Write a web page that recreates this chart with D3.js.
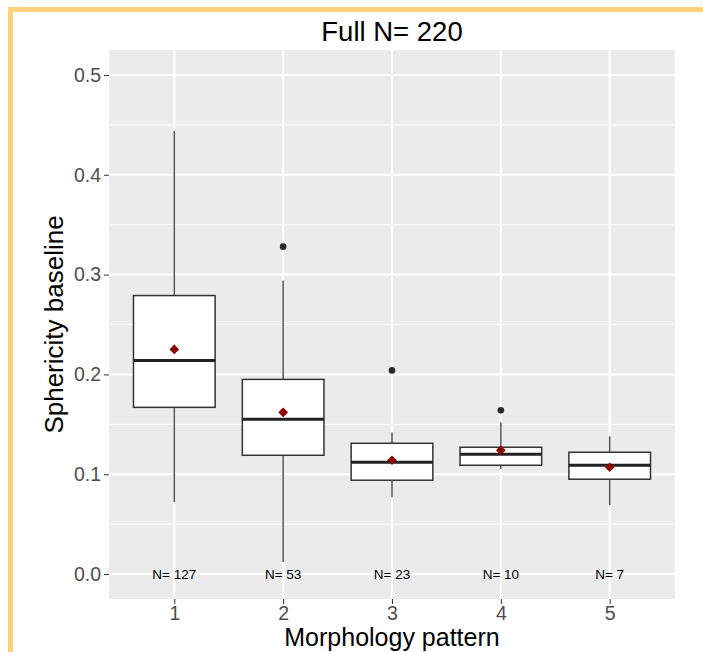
<!DOCTYPE html>
<html>
<head>
<meta charset="utf-8">
<script src="https://cdn.jsdelivr.net/npm/d3@7"></script>
<style>
  body { margin: 0; background: #fff; }
  svg { display: block; font-family: "Liberation Sans", Arial, sans-serif; }
</style>
</head>
<body>
<svg id="chart"></svg>
<script>
// values
const categories = ['1', '2', '3', '4', '5'];
const lowerWhisker = [0.072, 0.012, 0.077, 0.105, 0.069];
const q1 = [0.167, 0.119, 0.094, 0.109, 0.095];
const median = [0.214, 0.155, 0.112, 0.120, 0.109];
const q3 = [0.279, 0.195, 0.131, 0.127, 0.122];
const upperWhisker = [0.444, 0.294, 0.142, 0.152, 0.138];
const means = [0.225, 0.162, 0.114, 0.124, 0.107];
const outliers = [[], [0.328], [0.204], [0.164], []];
const counts = [127, 53, 23, 10, 7];
const yTicks = [0, 0.1, 0.2, 0.3, 0.4, 0.5];
const yMinor = [0.05, 0.15, 0.25, 0.35, 0.45];

const width = 703;
const height = 652;
const panel = { left: 109, right: 675, top: 50, bottom: 599 };

const svg = d3.select('#chart').attr('width', width).attr('height', height);

// yellow frame on the left and top
svg.append('rect').attr('x', 8).attr('y', 7).attr('width', 5).attr('height', height - 7).attr('fill', '#FED27C');
svg.append('rect').attr('x', 8).attr('y', 7).attr('width', width - 8).attr('height', 5).attr('fill', '#FED27C');

const x = d3.scalePoint().domain(categories).range([panel.left, panel.right]).padding(0.6);
const y = d3.scaleLinear().domain([-0.025, 0.525]).range([panel.bottom, panel.top]);
const boxW = x.step() * 0.75;

const boxes = categories.map((c, i) => ({
  cat: c, lw: lowerWhisker[i], q1: q1[i], med: median[i], q3: q3[i], uw: upperWhisker[i],
  mean: means[i], out: outliers[i], n: counts[i]
}));

svg.append('rect')
  .attr('x', panel.left).attr('y', panel.top)
  .attr('width', panel.right - panel.left).attr('height', panel.bottom - panel.top)
  .attr('fill', '#EBEBEB');

const grid = svg.append('g').attr('class', 'grid');
grid.selectAll('line.minor')
  .data(yMinor)
  .join('line')
  .attr('class', 'minor')
  .attr('x1', panel.left).attr('x2', panel.right)
  .attr('y1', d => y(d)).attr('y2', d => y(d))
  .attr('stroke', '#fff').attr('stroke-width', 1);
grid.selectAll('line.majory')
  .data(yTicks)
  .join('line')
  .attr('class', 'majory')
  .attr('x1', panel.left).attr('x2', panel.right)
  .attr('y1', d => y(d)).attr('y2', d => y(d))
  .attr('stroke', '#fff').attr('stroke-width', 2);
grid.selectAll('line.majorx')
  .data(categories)
  .join('line')
  .attr('class', 'majorx')
  .attr('x1', d => x(d)).attr('x2', d => x(d))
  .attr('y1', panel.top).attr('y2', panel.bottom)
  .attr('stroke', '#fff').attr('stroke-width', 2);

const box = svg.append('g')
  .selectAll('g')
  .data(boxes)
  .join('g')
  .attr('transform', d => `translate(${x(d.cat)},0)`);

box.append('line')
  .attr('x1', 0).attr('x2', 0)
  .attr('y1', d => y(d.q3)).attr('y2', d => y(d.uw))
  .attr('stroke', '#555').attr('stroke-width', 1.5);
box.append('line')
  .attr('x1', 0).attr('x2', 0)
  .attr('y1', d => y(d.q1)).attr('y2', d => y(d.lw))
  .attr('stroke', '#555').attr('stroke-width', 1.5);
box.append('rect')
  .attr('x', -boxW / 2).attr('width', boxW)
  .attr('y', d => y(d.q3)).attr('height', d => y(d.q1) - y(d.q3))
  .attr('fill', '#fff').attr('stroke', '#333').attr('stroke-width', 1.5);
box.append('line')
  .attr('x1', -boxW / 2).attr('x2', boxW / 2)
  .attr('y1', d => y(d.med)).attr('y2', d => y(d.med))
  .attr('stroke', '#222').attr('stroke-width', 3);
box.selectAll('circle')
  .data(d => d.out)
  .join('circle')
  .attr('cx', 0).attr('cy', d => y(d)).attr('r', 3.3)
  .attr('fill', '#2a2a2a');
box.append('path')
  .attr('d', d3.symbol(d3.symbolDiamond2, 60))
  .attr('transform', d => `translate(0,${y(d.mean)})`)
  .attr('fill', '#8B0000');
box.append('text')
  .attr('y', y(0))
  .attr('dy', '0.36em')
  .attr('text-anchor', 'middle')
  .attr('font-size', 13.5)
  .attr('fill', '#000')
  .text(d => `N= ${d.n}`);

const yAxis = svg.append('g')
  .attr('transform', `translate(${panel.left},0)`)
  .call(d3.axisLeft(y).tickValues(yTicks).tickFormat(d3.format('.1f')).tickSize(5).tickPadding(3));
const xAxis = svg.append('g')
  .attr('transform', `translate(0,${panel.bottom})`)
  .call(d3.axisBottom(x).tickSize(5).tickPadding(2));
[yAxis, xAxis].forEach(a => {
  a.select('.domain').remove();
  a.selectAll('.tick line').attr('stroke', '#333');
  a.selectAll('.tick text').attr('fill', '#4D4D4D').attr('font-size', 19.5).attr('font-family', null);
});

svg.append('text')
  .attr('x', (panel.left + panel.right) / 2).attr('y', 41)
  .attr('text-anchor', 'middle').attr('font-size', 27.5)
  .text('Full N= 220');
svg.append('text')
  .attr('x', (panel.left + panel.right) / 2).attr('y', 646)
  .attr('text-anchor', 'middle').attr('font-size', 25)
  .text('Morphology pattern');
svg.append('text')
  .attr('transform', `translate(63,${(panel.top + panel.bottom) / 2}) rotate(-90)`)
  .attr('text-anchor', 'middle').attr('font-size', 26)
  .text('Sphericity baseline');
</script>
</body>
</html>
